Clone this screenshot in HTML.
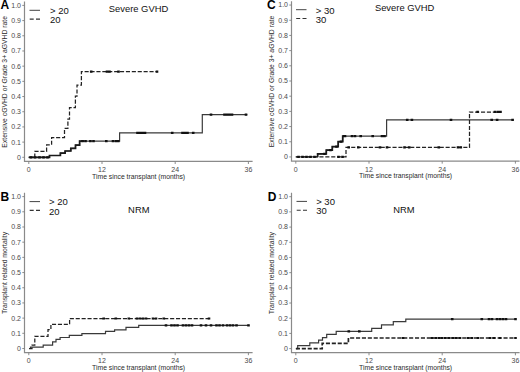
<!DOCTYPE html>
<html><head><meta charset="utf-8"><style>
html,body{margin:0;padding:0;background:#fff;}
body{width:520px;height:372px;overflow:hidden;}
svg{display:block;}
text{font-family:"Liberation Sans", sans-serif;}
.tl{font-size:7px;fill:#4a4a4a;}
.at{font-size:6.8px;fill:#2a2a2a;}
.tt{font-size:9.4px;fill:#111;}
.lg{font-size:9.5px;fill:#111;}
.pl{font-size:12px;font-weight:bold;fill:#000;}
</style></head><body>
<svg width="520" height="372" viewBox="0 0 520 372">
<g transform="translate(0,0)">
<path d="M24.5,1.5 V161.4 H252.6" fill="none" stroke="#8a8a8a" stroke-width="1.2"/>
<path d="M22.3,157.3H24.5M22.3,142.11H24.5M22.3,126.92H24.5M22.3,111.73H24.5M22.3,96.54H24.5M22.3,81.35H24.5M22.3,66.16H24.5M22.3,50.97H24.5M22.3,35.78H24.5M22.3,20.59H24.5M22.3,5.4H24.5M28.8,161.4V164M102,161.4V164M175.2,161.4V164M248.4,161.4V164" stroke="#808080" stroke-width="0.9" fill="none"/>
<text x="21" y="159.7" class="tl" text-anchor="end">0</text>
<text x="21" y="144.51" class="tl" text-anchor="end">0.1</text>
<text x="21" y="129.32" class="tl" text-anchor="end">0.2</text>
<text x="21" y="114.13" class="tl" text-anchor="end">0.3</text>
<text x="21" y="98.94" class="tl" text-anchor="end">0.4</text>
<text x="21" y="83.75" class="tl" text-anchor="end">0.5</text>
<text x="21" y="68.56" class="tl" text-anchor="end">0.6</text>
<text x="21" y="53.37" class="tl" text-anchor="end">0.7</text>
<text x="21" y="38.18" class="tl" text-anchor="end">0.8</text>
<text x="21" y="22.99" class="tl" text-anchor="end">0.9</text>
<text x="21" y="7.8" class="tl" text-anchor="end">1.0</text>
<text x="28.8" y="171.9" class="tl" text-anchor="middle">0</text>
<text x="102" y="171.9" class="tl" text-anchor="middle">12</text>
<text x="175.2" y="171.9" class="tl" text-anchor="middle">24</text>
<text x="248.4" y="171.9" class="tl" text-anchor="middle">36</text>
<text x="138.6" y="178.6" class="at" text-anchor="middle">Time since transplant (months)</text>
<text transform="translate(7.3,81.8) rotate(-90)" class="at" text-anchor="middle">Extensive cGVHD or Grade 3+ aGVHD rate</text>
</g>
<g transform="translate(0,191.2)">
<path d="M24.5,1.5 V161.4 H252.6" fill="none" stroke="#8a8a8a" stroke-width="1.2"/>
<path d="M22.3,157.3H24.5M22.3,142.11H24.5M22.3,126.92H24.5M22.3,111.73H24.5M22.3,96.54H24.5M22.3,81.35H24.5M22.3,66.16H24.5M22.3,50.97H24.5M22.3,35.78H24.5M22.3,20.59H24.5M22.3,5.4H24.5M28.8,161.4V164M102,161.4V164M175.2,161.4V164M248.4,161.4V164" stroke="#808080" stroke-width="0.9" fill="none"/>
<text x="21" y="159.7" class="tl" text-anchor="end">0</text>
<text x="21" y="144.51" class="tl" text-anchor="end">0.1</text>
<text x="21" y="129.32" class="tl" text-anchor="end">0.2</text>
<text x="21" y="114.13" class="tl" text-anchor="end">0.3</text>
<text x="21" y="98.94" class="tl" text-anchor="end">0.4</text>
<text x="21" y="83.75" class="tl" text-anchor="end">0.5</text>
<text x="21" y="68.56" class="tl" text-anchor="end">0.6</text>
<text x="21" y="53.37" class="tl" text-anchor="end">0.7</text>
<text x="21" y="38.18" class="tl" text-anchor="end">0.8</text>
<text x="21" y="22.99" class="tl" text-anchor="end">0.9</text>
<text x="21" y="7.8" class="tl" text-anchor="end">1.0</text>
<text x="28.8" y="171.9" class="tl" text-anchor="middle">0</text>
<text x="102" y="171.9" class="tl" text-anchor="middle">12</text>
<text x="175.2" y="171.9" class="tl" text-anchor="middle">24</text>
<text x="248.4" y="171.9" class="tl" text-anchor="middle">36</text>
<text x="138.6" y="178.6" class="at" text-anchor="middle">Time since transplant (months)</text>
<text transform="translate(7.3,81.8) rotate(-90)" class="at" text-anchor="middle">Transplant related mortality</text>
</g>
<g transform="translate(267,-0.35)">
<path d="M24.5,1.5 V161.4 H252.6" fill="none" stroke="#8a8a8a" stroke-width="1.2"/>
<path d="M22.3,157.3H24.5M22.3,142.11H24.5M22.3,126.92H24.5M22.3,111.73H24.5M22.3,96.54H24.5M22.3,81.35H24.5M22.3,66.16H24.5M22.3,50.97H24.5M22.3,35.78H24.5M22.3,20.59H24.5M22.3,5.4H24.5M28.8,161.4V164M102,161.4V164M175.2,161.4V164M248.4,161.4V164" stroke="#808080" stroke-width="0.9" fill="none"/>
<text x="21" y="159.7" class="tl" text-anchor="end">0</text>
<text x="21" y="144.51" class="tl" text-anchor="end">0.1</text>
<text x="21" y="129.32" class="tl" text-anchor="end">0.2</text>
<text x="21" y="114.13" class="tl" text-anchor="end">0.3</text>
<text x="21" y="98.94" class="tl" text-anchor="end">0.4</text>
<text x="21" y="83.75" class="tl" text-anchor="end">0.5</text>
<text x="21" y="68.56" class="tl" text-anchor="end">0.6</text>
<text x="21" y="53.37" class="tl" text-anchor="end">0.7</text>
<text x="21" y="38.18" class="tl" text-anchor="end">0.8</text>
<text x="21" y="22.99" class="tl" text-anchor="end">0.9</text>
<text x="21" y="7.8" class="tl" text-anchor="end">1.0</text>
<text x="28.8" y="171.9" class="tl" text-anchor="middle">0</text>
<text x="102" y="171.9" class="tl" text-anchor="middle">12</text>
<text x="175.2" y="171.9" class="tl" text-anchor="middle">24</text>
<text x="248.4" y="171.9" class="tl" text-anchor="middle">36</text>
<text x="138.6" y="178.6" class="at" text-anchor="middle">Time since transplant (months)</text>
<text transform="translate(6.5,81.8) rotate(-90)" class="at" text-anchor="middle">Extensive cGVHD or Grade 3+ aGVHD rate</text>
</g>
<g transform="translate(267,191.3)">
<path d="M24.5,1.5 V161.4 H252.6" fill="none" stroke="#8a8a8a" stroke-width="1.2"/>
<path d="M22.3,157.3H24.5M22.3,142.11H24.5M22.3,126.92H24.5M22.3,111.73H24.5M22.3,96.54H24.5M22.3,81.35H24.5M22.3,66.16H24.5M22.3,50.97H24.5M22.3,35.78H24.5M22.3,20.59H24.5M22.3,5.4H24.5M28.8,161.4V164M102,161.4V164M175.2,161.4V164M248.4,161.4V164" stroke="#808080" stroke-width="0.9" fill="none"/>
<text x="21" y="159.7" class="tl" text-anchor="end">0</text>
<text x="21" y="144.51" class="tl" text-anchor="end">0.1</text>
<text x="21" y="129.32" class="tl" text-anchor="end">0.2</text>
<text x="21" y="114.13" class="tl" text-anchor="end">0.3</text>
<text x="21" y="98.94" class="tl" text-anchor="end">0.4</text>
<text x="21" y="83.75" class="tl" text-anchor="end">0.5</text>
<text x="21" y="68.56" class="tl" text-anchor="end">0.6</text>
<text x="21" y="53.37" class="tl" text-anchor="end">0.7</text>
<text x="21" y="38.18" class="tl" text-anchor="end">0.8</text>
<text x="21" y="22.99" class="tl" text-anchor="end">0.9</text>
<text x="21" y="7.8" class="tl" text-anchor="end">1.0</text>
<text x="28.8" y="171.9" class="tl" text-anchor="middle">0</text>
<text x="102" y="171.9" class="tl" text-anchor="middle">12</text>
<text x="175.2" y="171.9" class="tl" text-anchor="middle">24</text>
<text x="248.4" y="171.9" class="tl" text-anchor="middle">36</text>
<text x="138.6" y="178.6" class="at" text-anchor="middle">Time since transplant (months)</text>
<text transform="translate(6.5,81.8) rotate(-90)" class="at" text-anchor="middle">Transplant related mortality</text>
</g>
<text x="0.6" y="9.4" class="pl">A</text>
<text x="0.6" y="200.6" class="pl">B</text>
<text x="267" y="9.4" class="pl">C</text>
<text x="267.8" y="200.9" class="pl">D</text>
<text x="138.5" y="12.3" class="tt" text-anchor="middle">Severe GVHD</text>
<text x="138.8" y="213.3" class="tt" text-anchor="middle">NRM</text>
<text x="404.6" y="11.4" class="tt" text-anchor="middle">Severe GVHD</text>
<text x="404" y="213.3" class="tt" text-anchor="middle">NRM</text>
<g transform="translate(0,0)">
<path d="M29.5,10.3H40" stroke="#444" stroke-width="1"/>
<path d="M29.7,19.1H40.2" stroke="#333" stroke-width="1.1" stroke-dasharray="4,2.3"/>
<text x="50" y="13.8" class="lg">&gt; 20</text>
<text x="50" y="23" class="lg">20</text>
</g>
<g transform="translate(0,191.3)">
<path d="M29.5,10.3H40" stroke="#444" stroke-width="1"/>
<path d="M29.7,19.1H40.2" stroke="#333" stroke-width="1.1" stroke-dasharray="4,2.3"/>
<text x="49" y="14.2" class="lg">&gt; 20</text>
<text x="49" y="23.4" class="lg">20</text>
</g>
<g transform="translate(266.5,-0.6)">
<path d="M29.5,10.3H40" stroke="#444" stroke-width="1"/>
<path d="M29.7,19.1H40.2" stroke="#333" stroke-width="1.1" stroke-dasharray="4,2.3"/>
<text x="49.3" y="14.4" class="lg">&gt; 30</text>
<text x="49.3" y="23.6" class="lg">30</text>
</g>
<g transform="translate(267,191.1)">
<path d="M29.5,10.3H40" stroke="#444" stroke-width="1"/>
<path d="M29.7,19.1H40.2" stroke="#333" stroke-width="1.1" stroke-dasharray="4,2.3"/>
<text x="49.2" y="13.8" class="lg">&gt; 30</text>
<text x="49.2" y="23" class="lg">30</text>
</g>
<path d="M28.8,157.4H49.5V155.5H60.4V153.2H65.1V151H70.8V148.4H75.5V145.1H79.6V141.05H119.6V132.9H202.3V114.6H247.3" fill="none" stroke="#3a3a3a" stroke-width="1.2"/>
<path d="M28.8,157.4H34.8V151.3H46.6V144.8H51.6V137.5H64.5V128.3H67.9V119.2H69.5V107.7H75.4V96H77V85H81.4V71.6H157.5" fill="none" stroke="#222" stroke-width="1.25" stroke-dasharray="4.1,1.8"/>
<path d="M29,348.5H30.5V347.2H43.2V345.1H52.6V341.8H56V339.3H60.1V337.5H69.3V335.4H81.9V333.7H105.5V331.4H114.6V329.9H126V327.4H138.7V325.4H248.8" fill="none" stroke="#3a3a3a" stroke-width="1.2"/>
<path d="M29,348.5H32V345H34.8V336.3H48V329.7H50.9V324.3H69.6V318.5H210.4" fill="none" stroke="#222" stroke-width="1.25" stroke-dasharray="4.1,1.8"/>
<path d="M295.8,156.9H317.6V153.9H326.3V150.2H332.3V146.6H338.2V141.7H342.7V136.2H386.6V119.8H513.2" fill="none" stroke="#3a3a3a" stroke-width="1.2"/>
<path d="M295.8,156.9H346V147.4H469.5V112H500.6" fill="none" stroke="#222" stroke-width="1.25" stroke-dasharray="4.1,1.8"/>
<path d="M295.9,348.7H297.7V345.7H309.8V342.9H318.6V340.2H322.5V337.6H326.7V334.4H336.2V331.4H371.7V328.3H381.5V324.9H393.3V321.6H405.8V319.1H516" fill="none" stroke="#3a3a3a" stroke-width="1.2"/>
<path d="M295.9,348.7H322.2V343.3H348.4V338H516" fill="none" stroke="#222" stroke-width="1.7" stroke-dasharray="4.1,1.8"/>
<path d="M28.8,157.4H49.5V155.5H60.4V153.2H65.1V151H70.8V148.4H75.5V145.1H79.6V141.05H84" fill="none" stroke="#1a1a1a" stroke-width="1.7"/>
<path d="M317.6,156.9V153.9H326.3V150.2H332.3V146.6H338.2V141.7H342.7V136.2H346" fill="none" stroke="#1a1a1a" stroke-width="1.7"/>
<path d="M29.7,156.3h2.6v2.2h-2.6zM33.7,156.3h2.6v2.2h-2.6zM38.2,156.3h2.6v2.2h-2.6zM42.2,156.3h2.6v2.2h-2.6zM46.2,156.3h2.6v2.2h-2.6zM81.2,139.95h2.6v2.2h-2.6zM84.2,139.95h2.6v2.2h-2.6zM89.1,139.95h2.6v2.2h-2.6zM92.2,139.95h2.6v2.2h-2.6zM105,139.95h2.6v2.2h-2.6zM111.7,139.95h2.6v2.2h-2.6zM114.7,139.95h2.6v2.2h-2.6zM117,139.95h2.6v2.2h-2.6zM136.2,131.8h2.6v2.2h-2.6zM138.7,131.8h2.6v2.2h-2.6zM141.2,131.8h2.6v2.2h-2.6zM143.7,131.8h2.6v2.2h-2.6zM170.9,131.8h2.6v2.2h-2.6zM181.2,131.8h2.6v2.2h-2.6zM183.7,131.8h2.6v2.2h-2.6zM186.2,131.8h2.6v2.2h-2.6zM191.9,131.8h2.6v2.2h-2.6zM209.7,113.5h2.6v2.2h-2.6zM223.2,113.5h2.6v2.2h-2.6zM225.7,113.5h2.6v2.2h-2.6zM228.2,113.5h2.6v2.2h-2.6zM230.7,113.5h2.6v2.2h-2.6zM244.7,113.5h2.6v2.2h-2.6zM89.9,70.5h2.6v2.2h-2.6zM105.7,70.5h2.6v2.2h-2.6zM108.2,70.5h2.6v2.2h-2.6zM117.2,70.5h2.6v2.2h-2.6zM155.7,70.5h2.6v2.2h-2.6z" fill="#111"/>
<path d="M102.4,317.4h2.6v2.2h-2.6zM114.5,317.4h2.6v2.2h-2.6zM127.5,317.4h2.6v2.2h-2.6zM135.7,317.4h2.6v2.2h-2.6zM138.7,317.4h2.6v2.2h-2.6zM141.7,317.4h2.6v2.2h-2.6zM144.7,317.4h2.6v2.2h-2.6zM151.7,317.4h2.6v2.2h-2.6zM154.7,317.4h2.6v2.2h-2.6zM162.5,317.4h2.6v2.2h-2.6zM207.7,317.4h2.6v2.2h-2.6zM164.7,324.3h2.6v2.2h-2.6zM170.2,324.3h2.6v2.2h-2.6zM173.2,324.3h2.6v2.2h-2.6zM176.2,324.3h2.6v2.2h-2.6zM181.7,324.3h2.6v2.2h-2.6zM184.7,324.3h2.6v2.2h-2.6zM187.7,324.3h2.6v2.2h-2.6zM190.7,324.3h2.6v2.2h-2.6zM199.7,324.3h2.6v2.2h-2.6zM204.7,324.3h2.6v2.2h-2.6zM209.7,324.3h2.6v2.2h-2.6zM215.2,324.3h2.6v2.2h-2.6zM218.2,324.3h2.6v2.2h-2.6zM221.7,324.3h2.6v2.2h-2.6zM225.7,324.3h2.6v2.2h-2.6zM228.7,324.3h2.6v2.2h-2.6zM231.7,324.3h2.6v2.2h-2.6zM235.2,324.3h2.6v2.2h-2.6zM247.2,324.3h2.6v2.2h-2.6z" fill="#111"/>
<path d="M323.2,152.8h2.6v2.2h-2.6zM329.2,149.1h2.6v2.2h-2.6zM335.2,145.5h2.6v2.2h-2.6zM339.7,140.6h2.6v2.2h-2.6zM343.7,135.1h2.6v2.2h-2.6zM297.2,155.8h2.6v2.2h-2.6zM301.2,155.8h2.6v2.2h-2.6zM305.2,155.8h2.6v2.2h-2.6zM309.2,155.8h2.6v2.2h-2.6zM313.2,155.8h2.6v2.2h-2.6zM337.2,155.8h2.6v2.2h-2.6zM341.2,155.8h2.6v2.2h-2.6zM343,135.1h2.6v2.2h-2.6zM350.7,135.1h2.6v2.2h-2.6zM353.7,135.1h2.6v2.2h-2.6zM359.4,135.1h2.6v2.2h-2.6zM371.4,135.1h2.6v2.2h-2.6zM380.7,135.1h2.6v2.2h-2.6zM383.2,135.1h2.6v2.2h-2.6zM405.9,118.7h2.6v2.2h-2.6zM410.6,118.7h2.6v2.2h-2.6zM449.7,118.7h2.6v2.2h-2.6zM490.4,118.7h2.6v2.2h-2.6zM495.8,118.7h2.6v2.2h-2.6zM511.3,118.7h2.6v2.2h-2.6zM347.4,146.3h2.6v2.2h-2.6zM357,146.3h2.6v2.2h-2.6zM378.7,146.3h2.6v2.2h-2.6zM385.7,146.3h2.6v2.2h-2.6zM403.2,146.3h2.6v2.2h-2.6zM407.9,146.3h2.6v2.2h-2.6zM437.5,146.3h2.6v2.2h-2.6zM456.7,146.3h2.6v2.2h-2.6zM459.5,146.3h2.6v2.2h-2.6zM476.3,110.7h2.6v2.2h-2.6zM493.7,110.7h2.6v2.2h-2.6zM496.7,110.7h2.6v2.2h-2.6zM499.2,110.7h2.6v2.2h-2.6z" fill="#111"/>
<path d="M347.5,330.3h2.6v2.2h-2.6zM358,330.3h2.6v2.2h-2.6zM450.9,318h2.6v2.2h-2.6zM480.5,318h2.6v2.2h-2.6zM487.7,318h2.6v2.2h-2.6zM490.7,318h2.6v2.2h-2.6zM495.7,318h2.6v2.2h-2.6zM498.7,318h2.6v2.2h-2.6zM501.7,318h2.6v2.2h-2.6zM504.7,318h2.6v2.2h-2.6zM514.2,318h2.6v2.2h-2.6zM401.7,336.9h2.6v2.2h-2.6zM430.7,336.9h2.6v2.2h-2.6zM434.7,336.9h2.6v2.2h-2.6zM437.7,336.9h2.6v2.2h-2.6zM440.7,336.9h2.6v2.2h-2.6zM443.7,336.9h2.6v2.2h-2.6zM447.7,336.9h2.6v2.2h-2.6zM451.7,336.9h2.6v2.2h-2.6zM454.7,336.9h2.6v2.2h-2.6zM458.7,336.9h2.6v2.2h-2.6zM466.7,336.9h2.6v2.2h-2.6zM470.7,336.9h2.6v2.2h-2.6zM476.7,336.9h2.6v2.2h-2.6zM488.7,336.9h2.6v2.2h-2.6zM492.7,336.9h2.6v2.2h-2.6zM498.7,336.9h2.6v2.2h-2.6zM514.2,336.9h2.6v2.2h-2.6z" fill="#111"/>
</svg>
</body></html>
